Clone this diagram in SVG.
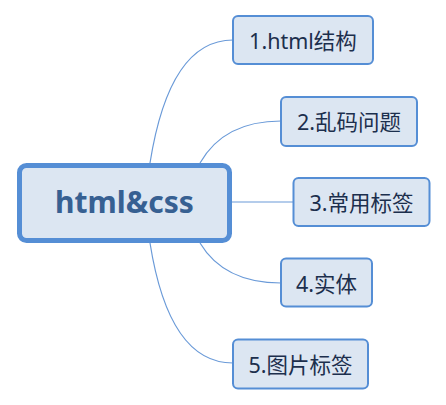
<svg xmlns="http://www.w3.org/2000/svg" width="446" height="405" viewBox="0 0 446 405">
<style>
.node rect{fill:#dce6f2;stroke:#558ed5;stroke-width:2}
.node text{font-family:"Noto Sans","Noto Sans CJK SC",sans-serif;font-size:21.5px;fill:#1c2f4d;text-anchor:middle}
#root rect{stroke-width:5}
#root text{font-size:30px;font-weight:bold;fill:#376092}
#connectors path{fill:none;stroke:#6a9ad8;stroke-width:1.2}
</style>
<rect width="446" height="405" fill="#ffffff"/>
<g id="connectors">
<path d="M150,163 C160,100 182,40 233,40"/>
<path d="M200,163 Q224,121 281,121"/>
<path d="M232,202 L294,202"/>
<path d="M200,243 Q224,283 281,283"/>
<path d="M150,243 C160,306 182,363 233,363"/>
</g>
<g id="root" class="node">
<rect x="19.5" y="165.5" width="210" height="75" rx="7"/>
<text x="124.5" y="213">html&amp;css</text>
</g>
<g id="n1" class="node">
<rect x="233" y="16" width="140" height="48" rx="5"/>
<text x="303" y="49">1.html结构</text>
</g>
<g id="n2" class="node">
<rect x="281" y="97" width="136" height="49" rx="5"/>
<text x="349" y="130">2.乱码问题</text>
</g>
<g id="n3" class="node">
<rect x="293.5" y="178" width="136" height="48" rx="5"/>
<text x="361.5" y="211">3.常用标签</text>
</g>
<g id="n4" class="node">
<rect x="281" y="258.5" width="91" height="48" rx="5"/>
<text x="326.5" y="292">4.实体</text>
</g>
<g id="n5" class="node">
<rect x="233" y="339.5" width="135" height="49" rx="5"/>
<text x="300.5" y="373">5.图片标签</text>
</g>
</svg>
